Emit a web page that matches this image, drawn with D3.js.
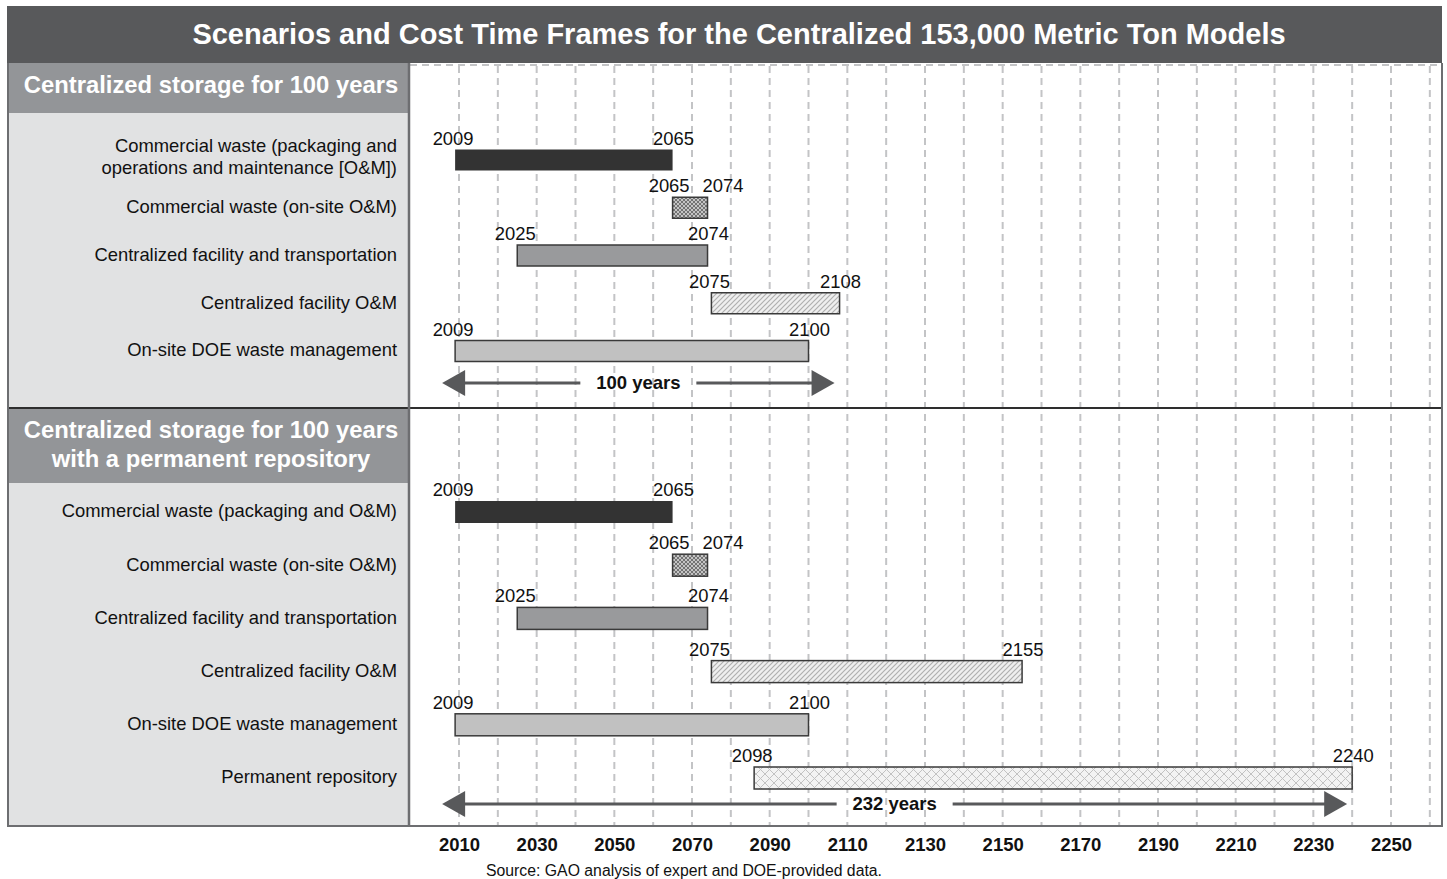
<!DOCTYPE html>
<meta charset="utf-8">
<body style="margin:0;background:#fff">
<script src="https://d3js.org/d3.v7.min.js"></script>

<style>
  body { font-family: "Liberation Sans", Arial, Helvetica, sans-serif; }
  .rowlabel { font-size: 18.4px; fill: #111; }
  .yearlabel { font-size: 18.4px; fill: #111; }
  .axis text { font-size: 18.5px; font-weight: bold; fill: #111; font-family: "Liberation Sans", Arial, sans-serif; }
  .axis path { display: none; }
</style>

<script>
// ---- data ----
var chartTitle = "Scenarios and Cost Time Frames for the Centralized 153,000 Metric Ton Models";
var sourceNote = "Source: GAO analysis of expert and DOE-provided data.";

var tickYears = [2010, 2030, 2050, 2070, 2090, 2110, 2130, 2150, 2170, 2190, 2210, 2230, 2250];
var gridYears = [2010, 2020, 2030, 2040, 2050, 2060, 2070, 2080, 2090, 2100, 2110, 2120, 2130,
                 2140, 2150, 2160, 2170, 2180, 2190, 2200, 2210, 2220, 2230, 2240, 2250, 2260];

// scenario 1: centralized storage for 100 years
var header1 = ["Centralized storage for 100 years"];
var labels1 = [["Commercial waste (packaging and", "operations and maintenance [O&M])"],
               ["Commercial waste (on-site O&M)"],
               ["Centralized facility and transportation"],
               ["Centralized facility O&M "],
               ["On-site DOE waste management"]];
var start1 = [2009, 2065, 2025, 2075, 2009];
var end1   = [2065, 2074, 2074, 2108, 2100];
var fill1  = ["dark", "crossDark", "mid", "diag", "light"];
var span1  = [2009, 2108];
var spanLabel1 = "100 years";

// scenario 2: centralized storage for 100 years with a permanent repository
var header2 = ["Centralized storage for 100 years", "with a permanent repository"];
var labels2 = [["Commercial waste (packaging and O&M)"],
               ["Commercial waste (on-site O&M)"],
               ["Centralized facility and transportation"],
               ["Centralized facility O&M "],
               ["On-site DOE waste management"],
               ["Permanent repository"]];
var start2 = [2009, 2065, 2025, 2075, 2009, 2098];
var end2   = [2065, 2074, 2074, 2155, 2100, 2240];
// the repository bar is drawn starting near 2086 in the source, although labelled 2098
var drawnStart2 = [2009, 2065, 2025, 2075, 2009, 2086];
var fill2  = ["dark", "crossDark", "mid", "diag", "light", "crossLight"];
var span2  = [2009, 2240];
var spanLabel2 = "232 years";

// ---- layout ----
var W = 1447, H = 879;
var frameL = 7, frameR = 1442, frameT = 6, frameB = 826;
var titleB = 63, panelR = 409;

var svg = d3.select("body").append("svg")
    .attr("width", W)
    .attr("height", H);

var x = d3.scaleLinear().domain([2010, 2250]).range([459, 1391]);

// patterns
var defs = svg.append("defs");
var p1 = defs.append("pattern").attr("id", "crossDark").attr("patternUnits", "userSpaceOnUse")
    .attr("width", 4).attr("height", 4);
p1.append("rect").attr("width", 4).attr("height", 4).attr("fill", "#c4c4c4");
p1.append("path").attr("d", "M0,0L4,4M4,0L0,4").attr("stroke", "#6a6a6a").attr("stroke-width", 0.9);

var p2 = defs.append("pattern").attr("id", "diag").attr("patternUnits", "userSpaceOnUse")
    .attr("width", 5).attr("height", 5);
p2.append("rect").attr("width", 5).attr("height", 5).attr("fill", "#efefef");
p2.append("path").attr("d", "M-1,6L6,-1M-1,1L1,-1M4,6L6,4").attr("stroke", "#b0b0b0").attr("stroke-width", 1.2);

var p3 = defs.append("pattern").attr("id", "crossLight").attr("patternUnits", "userSpaceOnUse")
    .attr("width", 9).attr("height", 9);
p3.append("rect").attr("width", 9).attr("height", 9).attr("fill", "#f3f3f3");
p3.append("path").attr("d", "M0,0L9,9M9,0L0,9").attr("stroke", "#c2c2c2").attr("stroke-width", 1);

var fills = {
  dark: "#333333",
  crossDark: "url(#crossDark)",
  mid: "#999a9c",
  diag: "url(#diag)",
  light: "#c1c1c1",
  crossLight: "url(#crossLight)"
};

// backgrounds
svg.append("rect").attr("x", frameL).attr("y", frameT).attr("width", frameR - frameL).attr("height", titleB - frameT)
    .attr("fill", "#58595b");
svg.append("rect").attr("x", frameL).attr("y", titleB).attr("width", panelR - frameL).attr("height", frameB - titleB)
    .attr("fill", "#e1e2e3");
svg.append("rect").attr("x", frameL).attr("y", titleB).attr("width", panelR - frameL).attr("height", 50)
    .attr("fill", "#939598");
svg.append("rect").attr("x", frameL).attr("y", 409).attr("width", panelR - frameL).attr("height", 74)
    .attr("fill", "#939598");

// title
svg.append("text")
    .attr("x", 739).attr("y", 44)
    .attr("text-anchor", "middle")
    .style("font-size", "29px").style("font-weight", "bold").style("fill", "#fff")
    .text(chartTitle);

// header texts
function header(lines, y0) {
  var t = svg.append("text")
    .attr("text-anchor", "middle")
    .style("font-size", "23.8px").style("font-weight", "bold").style("fill", "#fff");
  lines.forEach(function(l, i) {
    t.append("tspan").attr("x", 211).attr("y", y0 + i * 29).text(l);
  });
}
header(header1, 93);
header(header2, 438);

// gridlines
svg.append("g").selectAll("line")
  .data(gridYears)
  .enter().append("line")
    .attr("x1", function(d) { return x(d); })
    .attr("x2", function(d) { return x(d); })
    .attr("y1", 66).attr("y2", frameB)
    .attr("stroke", "#c3c4c6").attr("stroke-width", 2)
    .attr("stroke-dasharray", "7,5");
svg.append("line")
    .attr("x1", panelR + 1).attr("x2", frameR).attr("y1", 65).attr("y2", 65)
    .attr("stroke", "#c3c4c6").attr("stroke-width", 2).attr("stroke-dasharray", "7,5");

// frame lines
svg.append("line").attr("x1", frameL).attr("x2", frameR + 1).attr("y1", 408).attr("y2", 408)
    .attr("stroke", "#2e2e2e").attr("stroke-width", 2);
svg.append("line").attr("x1", panelR).attr("x2", panelR).attr("y1", titleB).attr("y2", frameB)
    .attr("stroke", "#6d6e71").attr("stroke-width", 2.5);
svg.append("line").attr("x1", frameL + 1).attr("x2", frameL + 1).attr("y1", titleB).attr("y2", frameB)
    .attr("stroke", "#6d6e71").attr("stroke-width", 2);
svg.append("line").attr("x1", frameR).attr("x2", frameR).attr("y1", titleB).attr("y2", frameB + 1)
    .attr("stroke", "#6d6e71").attr("stroke-width", 2);
svg.append("line").attr("x1", frameL).attr("x2", frameR + 1).attr("y1", frameB).attr("y2", frameB)
    .attr("stroke", "#6d6e71").attr("stroke-width", 2);

// ---- scenario drawing ----
function scenario(labels, starts, ends, drawn, fillKeys, yRange, barH, span, spanText, arrowY) {
  var y = d3.scalePoint().domain(d3.range(labels.length)).range(yRange);
  var g = svg.append("g");

  // row labels
  labels.forEach(function(lines, i) {
    var t = g.append("text").attr("class", "rowlabel").attr("text-anchor", "end");
    var cy = y(i) - 1 - (lines.length - 1) * 13;
    lines.forEach(function(l, j) {
      t.append("tspan").attr("x", 397).attr("y", cy + j * 22).attr("dy", "0.35em").text(l);
    });
  });

  var rows = labels.map(function(d, i) {
    return { i: i, s: starts[i], e: ends[i], ds: drawn[i], f: fillKeys[i] };
  });

  g.selectAll(".bar")
    .data(rows)
    .enter().append("rect")
      .attr("class", "bar")
      .attr("x", function(d) { return x(d.ds); })
      .attr("y", function(d) { return y(d.i) - barH / 2; })
      .attr("width", function(d) { return x(d.e) - x(d.ds); })
      .attr("height", barH)
      .attr("fill", function(d) { return fills[d.f]; })
      .attr("stroke", function(d) { return d.f == "dark" ? "none" : "#3a3a3a"; })
      .attr("stroke-width", 1.5);

  // year labels at ends
  rows.forEach(function(d) {
    var x0 = x(d.ds), x1 = x(d.e);
    var narrow = (x1 - x0) < 60;
    g.append("text").attr("class", "yearlabel")
      .attr("x", narrow ? x0 + 17 : x0 - 2)
      .attr("y", y(d.i) - barH / 2 - 5)
      .attr("text-anchor", narrow ? "end" : "middle")
      .text(d.s);
    g.append("text").attr("class", "yearlabel")
      .attr("x", narrow ? x1 - 5 : x1 + 1)
      .attr("y", y(d.i) - barH / 2 - 5)
      .attr("text-anchor", narrow ? "start" : "middle")
      .text(d.e);
  });

  // span arrow
  var ax0 = x(span[0]) - 13, ax1 = x(span[1]) - 5;
  var mid = (ax0 + ax1) / 2;
  var gap = 58, head = 23, hh = 13;
  var col = "#58595b";
  g.append("line").attr("x1", ax0 + head - 2).attr("x2", mid - gap).attr("y1", arrowY).attr("y2", arrowY)
    .attr("stroke", col).attr("stroke-width", 3);
  g.append("line").attr("x1", mid + gap).attr("x2", ax1 - head + 2).attr("y1", arrowY).attr("y2", arrowY)
    .attr("stroke", col).attr("stroke-width", 3);
  g.append("path")
    .attr("d", "M" + ax0 + "," + arrowY + "L" + (ax0 + head) + "," + (arrowY - hh) + "L" + (ax0 + head) + "," + (arrowY + hh) + "Z")
    .attr("fill", col);
  g.append("path")
    .attr("d", "M" + ax1 + "," + arrowY + "L" + (ax1 - head) + "," + (arrowY - hh) + "L" + (ax1 - head) + "," + (arrowY + hh) + "Z")
    .attr("fill", col);
  g.append("text")
    .attr("x", mid).attr("y", arrowY).attr("dy", "0.35em")
    .attr("text-anchor", "middle")
    .style("font-size", "18.5px").style("font-weight", "bold").style("fill", "#111")
    .text(spanText);
}

scenario(labels1, start1, end1, start1, fill1, [160, 351], 21, span1, spanLabel1, 383);
scenario(labels2, start2, end2, drawnStart2, fill2, [512, 778], 22, span2, spanLabel2, 804);

// axis
var xAxis = d3.axisBottom(x)
    .tickValues(tickYears)
    .tickFormat(d3.format("d"))
    .tickSize(0)
    .tickPadding(0);

svg.append("g")
    .attr("class", "axis")
    .attr("transform", "translate(0,838)")
    .call(xAxis);

// source
svg.append("text")
    .attr("x", 684).attr("y", 876)
    .attr("text-anchor", "middle")
    .style("font-size", "15.8px").style("fill", "#111")
    .text(sourceNote);
</script>
